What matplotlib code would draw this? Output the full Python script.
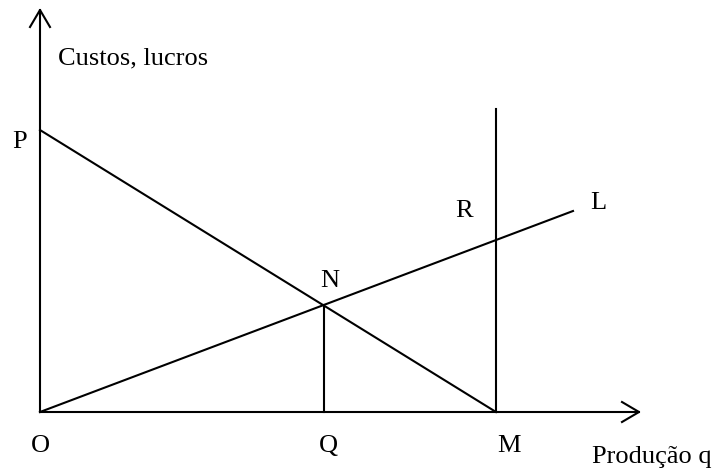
import matplotlib
matplotlib.use("Agg")
import matplotlib.pyplot as plt

# diagram points, in picture pixels (y down)
origin = (40, 412)
y_axis_top = (40, 10)
x_axis_end = (639, 412)
p_point = (40, 130)
m_point = (496, 412)
m_top = (496, 109)
q_x = 324
l_end = (573, 211)

# labels: text, x, y (baseline), ha
labels = [
    ("Custos, lucros", 58, 64, "left"),
    ("P", 12, 148, "left"),
    ("O", 40, 452, "center"),
    ("Q", 328, 452, "center"),
    ("M", 509, 452, "center"),
    ("N", 330, 287, "center"),
    ("R", 464, 217, "center"),
    ("L", 590, 209, "left"),
    ("Produção q", 592, 463, "left"),
]

fig = plt.figure(figsize=(7.12, 4.68), dpi=100)
ax = fig.add_axes([0, 0, 1, 1])
ax.set_xlim(0, 712)
ax.set_ylim(468, 0)
ax.axis("off")

lw = 1.5
k = "black"

# axes
ax.plot([origin[0], y_axis_top[0]], [origin[1], y_axis_top[1]], color=k, lw=lw)
ax.plot([origin[0], x_axis_end[0]], [origin[1], x_axis_end[1]], color=k, lw=lw)
# open arrow heads
ax.plot([y_axis_top[0] - 10, y_axis_top[0], y_axis_top[0] + 10],
        [y_axis_top[1] + 17, y_axis_top[1], y_axis_top[1] + 17], color=k, lw=lw)
ax.plot([x_axis_end[0] - 17, x_axis_end[0], x_axis_end[0] - 17],
        [x_axis_end[1] - 10, x_axis_end[1], x_axis_end[1] + 10], color=k, lw=lw)

# P-M line and O-L line
ax.plot([p_point[0], m_point[0]], [p_point[1], m_point[1]], color=k, lw=lw)
ax.plot([origin[0], l_end[0]], [origin[1], l_end[1]], color=k, lw=lw)

# vertical at M
ax.plot([m_point[0], m_top[0]], [m_point[1], m_top[1]], color=k, lw=lw)

# vertical at Q up to N (intersection of the two lines)
slope_ol = (l_end[1] - origin[1]) / (l_end[0] - origin[0])
n_y = origin[1] + slope_ol * (q_x - origin[0])
ax.plot([q_x, q_x], [origin[1], n_y], color=k, lw=lw)

for txt, x, y, ha in labels:
    ax.text(x, y, txt, ha=ha, va="baseline", fontsize=19,
            family="Liberation Serif", color=k)

fig.savefig("out.png", dpi=100)
